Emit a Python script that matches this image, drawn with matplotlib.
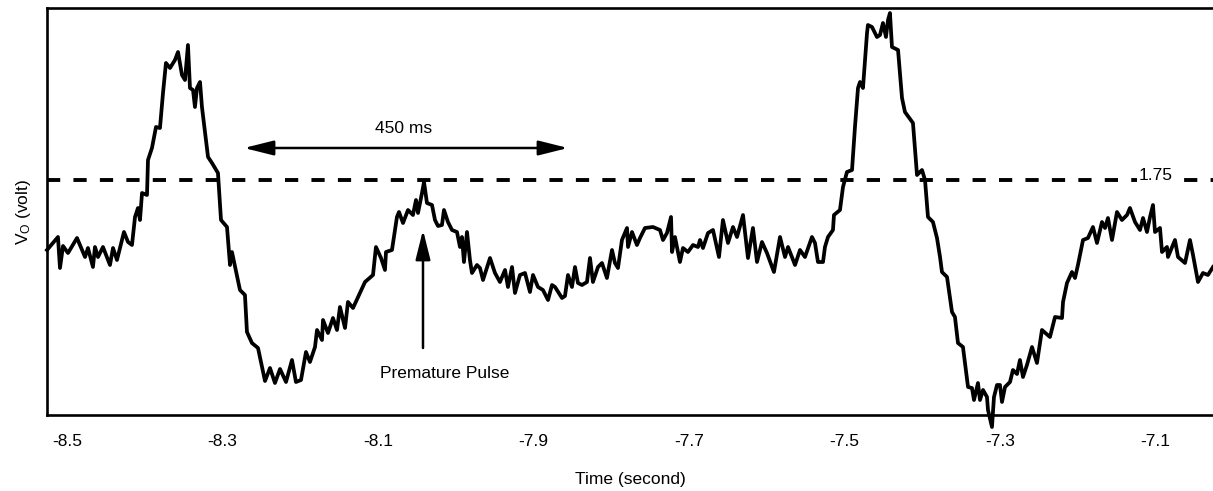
import matplotlib
matplotlib.use("Agg")
import matplotlib.pyplot as plt

plt.rcParams['font.family'] = ['Liberation Sans', 'DejaVu Sans']
plt.rcParams['mathtext.fontset'] = 'custom'
plt.rcParams['mathtext.rm'] = 'Liberation Sans'
plt.rcParams['mathtext.it'] = 'Liberation Sans:italic'

# ---- data (time in seconds, output voltage in volts) ----
time_s = [
    -8.5257, -8.5116, -8.5090, -8.5051, -8.4987, -8.4871, -8.4768, -8.4730, -8.4666, -8.4640,
    -8.4601, -8.4537, -8.4447, -8.4408, -8.4357, -8.4267, -8.4215, -8.4164, -8.4125, -8.4087,
    -8.4061, -8.4035, -8.3971, -8.3958, -8.3907, -8.3855, -8.3804, -8.3765, -8.3727, -8.3675,
    -8.3611, -8.3572, -8.3521, -8.3482, -8.3444, -8.3418, -8.3379, -8.3354, -8.3328, -8.3289,
    -8.3264, -8.3186, -8.3135, -8.3058, -8.3019, -8.2942, -8.2903, -8.2878, -8.2775, -8.2711,
    -8.2685, -8.2621, -8.2543, -8.2453, -8.2389, -8.2325, -8.2260, -8.2183, -8.2106, -8.2055,
    -8.1990, -8.1926, -8.1875, -8.1810, -8.1784, -8.1720, -8.1707, -8.1643, -8.1579, -8.1527,
    -8.1489, -8.1424, -8.1386, -8.1321, -8.1167, -8.1064, -8.1026, -8.0961, -8.0910, -8.0897,
    -8.0820, -8.0756, -8.0730, -8.0678, -8.0614, -8.0550, -8.0511, -8.0485, -8.0434, -8.0408,
    -8.0370, -8.0305, -8.0267, -8.0228, -8.0177, -8.0151, -8.0100, -8.0048, -7.9984, -7.9945,
    -7.9920, -7.9894, -7.9855, -7.9817, -7.9791, -7.9727, -7.9688, -7.9649, -7.9559, -7.9495,
    -7.9431, -7.9366, -7.9328, -7.9276, -7.9238, -7.9174, -7.9109, -7.9045, -7.9006, -7.8942,
    -7.8878, -7.8813, -7.8762, -7.8723, -7.8633, -7.8595, -7.8556, -7.8505, -7.8466, -7.8428,
    -7.8376, -7.8312, -7.8273, -7.8235, -7.8170, -7.8119, -7.8055, -7.7990, -7.7952, -7.7913,
    -7.7862, -7.7797, -7.7784, -7.7733, -7.7669, -7.7630, -7.7566, -7.7463, -7.7373, -7.7334,
    -7.7283, -7.7231, -7.7218, -7.7180, -7.7116, -7.7077, -7.7013, -7.6948, -7.6884, -7.6858,
    -7.6820, -7.6755, -7.6691, -7.6614, -7.6563, -7.6498, -7.6434, -7.6382, -7.6305, -7.6241,
    -7.6177, -7.6125, -7.6061, -7.5997, -7.5907, -7.5829, -7.5765, -7.5726, -7.5636, -7.5572,
    -7.5508, -7.5418, -7.5379, -7.5341, -7.5276, -7.5251, -7.5212, -7.5148, -7.5135, -7.5058,
    -7.5019, -7.4968, -7.4903, -7.4865, -7.4826, -7.4800, -7.4762, -7.4710, -7.4698, -7.4646,
    -7.4582, -7.4543, -7.4505, -7.4466, -7.4440, -7.4415, -7.4389, -7.4311, -7.4260, -7.4222,
    -7.4119, -7.4067, -7.4003, -7.3964, -7.3926, -7.3862, -7.3810, -7.3771, -7.3746, -7.3681,
    -7.3617, -7.3579, -7.3540, -7.3476, -7.3411, -7.3360, -7.3334, -7.3283, -7.3257, -7.3218,
    -7.3167, -7.3154, -7.3103, -7.3077, -7.3038, -7.3000, -7.2974, -7.2935, -7.2871, -7.2833,
    -7.2781, -7.2743, -7.2704, -7.2653, -7.2588, -7.2524, -7.2460, -7.2357, -7.2292, -7.2202,
    -7.2189, -7.2138, -7.2074, -7.2035, -7.1997, -7.1971, -7.1932, -7.1868, -7.1804, -7.1752,
    -7.1688, -7.1649, -7.1611, -7.1559, -7.1495, -7.1431, -7.1366, -7.1328, -7.1263, -7.1199,
    -7.1160, -7.1109, -7.1070, -7.1032, -7.1006, -7.0942, -7.0916, -7.0852, -7.0839, -7.0749,
    -7.0710, -7.0620, -7.0556, -7.0517, -7.0453, -7.0389, -7.0325, -7.0260,
]
vo_volt = [
    1.400, 1.465, 1.310, 1.420, 1.385, 1.460, 1.365, 1.410, 1.315, 1.415,
    1.365, 1.415, 1.325, 1.410, 1.350, 1.490, 1.440, 1.425, 1.565, 1.610,
    1.550, 1.685, 1.675, 1.850, 1.910, 2.015, 2.010, 2.185, 2.335, 2.310,
    2.350, 2.390, 2.275, 2.250, 2.425, 2.210, 2.200, 2.115, 2.210, 2.240,
    2.115, 1.865, 1.835, 1.785, 1.550, 1.515, 1.325, 1.390, 1.200, 1.175,
    0.990, 0.935, 0.910, 0.745, 0.810, 0.735, 0.805, 0.740, 0.850, 0.740,
    0.750, 0.890, 0.840, 0.915, 1.000, 0.950, 1.050, 0.985, 1.060, 1.000,
    1.115, 1.010, 1.140, 1.110, 1.240, 1.275, 1.415, 1.360, 1.300, 1.390,
    1.400, 1.565, 1.590, 1.535, 1.600, 1.575, 1.650, 1.585, 1.685, 1.740,
    1.635, 1.625, 1.550, 1.520, 1.525, 1.600, 1.540, 1.500, 1.490, 1.415,
    1.465, 1.340, 1.490, 1.350, 1.285, 1.325, 1.310, 1.250, 1.360, 1.285,
    1.240, 1.300, 1.215, 1.315, 1.185, 1.275, 1.285, 1.190, 1.275, 1.215,
    1.200, 1.150, 1.225, 1.215, 1.160, 1.170, 1.275, 1.215, 1.315, 1.235,
    1.225, 1.240, 1.360, 1.240, 1.315, 1.335, 1.260, 1.400, 1.335, 1.310,
    1.450, 1.510, 1.415, 1.490, 1.425, 1.460, 1.510, 1.515, 1.500, 1.450,
    1.485, 1.565, 1.390, 1.465, 1.340, 1.410, 1.390, 1.425, 1.415, 1.450,
    1.410, 1.485, 1.500, 1.365, 1.550, 1.435, 1.515, 1.465, 1.575, 1.360,
    1.510, 1.340, 1.440, 1.385, 1.290, 1.465, 1.365, 1.415, 1.325, 1.400,
    1.365, 1.465, 1.435, 1.340, 1.340, 1.415, 1.465, 1.500, 1.575, 1.600,
    1.715, 1.790, 1.800, 2.015, 2.210, 2.240, 2.210, 2.485, 2.525, 2.515,
    2.465, 2.475, 2.535, 2.465, 2.550, 2.585, 2.415, 2.400, 2.160, 2.090,
    2.035, 1.775, 1.800, 1.750, 1.565, 1.540, 1.460, 1.365, 1.290, 1.265,
    1.090, 1.065, 0.935, 0.915, 0.715, 0.710, 0.650, 0.735, 0.650, 0.700,
    0.665, 0.600, 0.515, 0.665, 0.725, 0.725, 0.640, 0.715, 0.740, 0.800,
    0.780, 0.850, 0.765, 0.825, 0.915, 0.835, 1.000, 0.965, 1.065, 1.060,
    1.140, 1.235, 1.290, 1.260, 1.325, 1.375, 1.450, 1.460, 1.515, 1.435,
    1.540, 1.510, 1.560, 1.450, 1.590, 1.550, 1.575, 1.610, 1.540, 1.500,
    1.560, 1.490, 1.565, 1.625, 1.490, 1.510, 1.390, 1.415, 1.365, 1.450,
    1.365, 1.335, 1.450, 1.375, 1.240, 1.285, 1.275, 1.315,
]

threshold = 1.75
x_ticks = [-8.5, -8.3, -8.1, -7.9, -7.7, -7.5, -7.3, -7.1]
x_tick_labels = ["-8.5", "-8.3", "-8.1", "-7.9", "-7.7", "-7.5", "-7.3", "-7.1"]

interval_start = -8.2723
interval_end = -7.8556
interval_y = 1.91
interval_label = "450 ms"
pulse_t = -8.0421
pulse_tip = 1.50
pulse_tail = 0.91
pulse_label = "Premature Pulse"

# ---- figure ----
fig = plt.figure(figsize=(12.13, 4.91), dpi=100)
ax = fig.add_axes([47 / 1213, 1 - 415 / 491, 1 - 47 / 1213, (415 - 8) / 491])

ax.plot(time_s, vo_volt, color='black', lw=2.7, solid_joinstyle='round', clip_on=False, zorder=3)
ax.axhline(threshold, color='black', lw=2.8, ls=(0, (3.4, 3.4)), zorder=2)
ax.text(-7.1, threshold + 0.02, "1.75", ha='center', va='center', fontsize=12.5,
        bbox=dict(facecolor='white', edgecolor='none', pad=1.0), zorder=4)

ax.annotate("", xy=(interval_start, interval_y), xytext=(interval_end, interval_y),
            arrowprops=dict(arrowstyle='<|-|>,head_length=1.8,head_width=0.45',
                            color='black', lw=1.8, shrinkA=0, shrinkB=0))
ax.text((interval_start + interval_end) / 2 - 0.003, interval_y + 0.10, interval_label,
        ha='center', va='center', fontsize=12.5)

ax.annotate("", xy=(pulse_t, pulse_tip), xytext=(pulse_t, pulse_tail),
            arrowprops=dict(arrowstyle='-|>,head_length=1.8,head_width=0.45',
                            color='black', lw=1.8, shrinkA=0, shrinkB=0))
ax.text(-8.0138, 0.785, pulse_label, ha='center', va='center', fontsize=12.5)

ax.set_xlim(-8.5257, -7.0260)
ax.set_ylim(0.575, 2.61)
ax.set_xticks(x_ticks)
ax.set_xticklabels(x_tick_labels)
ax.set_yticks([])
ax.tick_params(axis='x', length=0, pad=14, labelsize=12.5)
for side in ['left', 'top', 'bottom']:
    ax.spines[side].set_linewidth(1.9)
ax.spines['right'].set_visible(False)

ax.set_xlabel("Time (second)", fontsize=12.5, labelpad=16)
ax.set_ylabel(r"V$_\mathrm{O}$ (volt)", fontsize=12.5, labelpad=10)

fig.savefig("out.png", dpi=100)
